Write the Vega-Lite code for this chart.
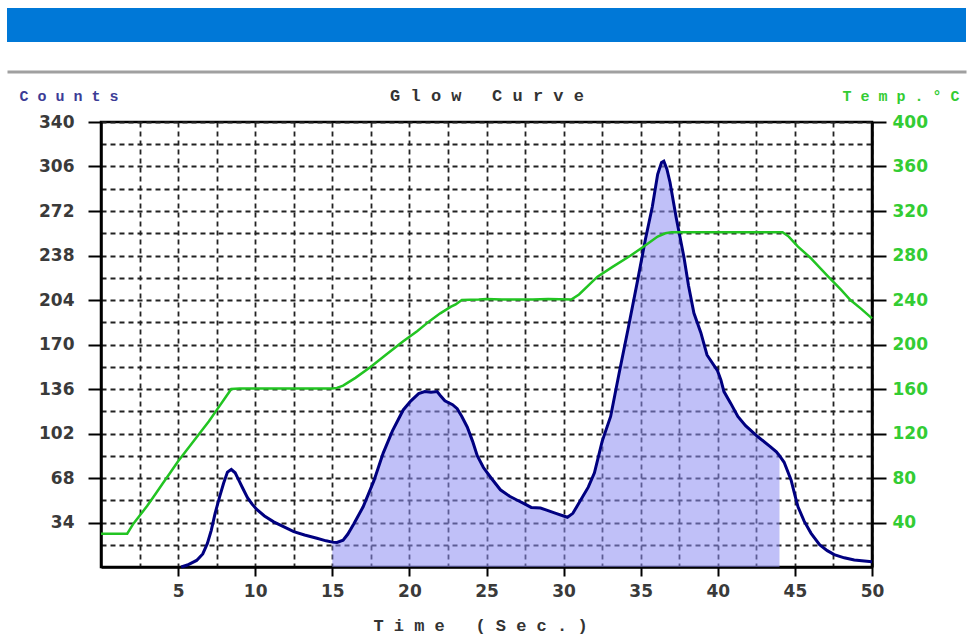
{
  "$schema": "https://vega.github.io/schema/vega-lite/v6.json",
  "padding": {"left": 4, "top": 8, "right": 0, "bottom": 0},
  "background": "white",
  "columns": 1,
  "bounds": "flush",
  "center": true,
  "spacing": 29.5,
  "config": {
    "axis": {"labelFlush": false, "labelOverlap": false},
    "axisRight": {"tickSize": 14, "labelPadding": 6}
  },
  "datasets": {
    "glow": [
      {"t": 5.2, "counts": 0}, {"t": 5.6, "counts": 1.5}, {"t": 6.2, "counts": 5}, {"t": 6.6, "counts": 10},
      {"t": 6.9, "counts": 18}, {"t": 7.15, "counts": 28}, {"t": 7.4, "counts": 41}, {"t": 7.7, "counts": 54},
      {"t": 7.95, "counts": 64}, {"t": 8.2, "counts": 72.5}, {"t": 8.45, "counts": 74.5}, {"t": 8.7, "counts": 72},
      {"t": 8.95, "counts": 66}, {"t": 9.2, "counts": 60}, {"t": 9.5, "counts": 53}, {"t": 9.8, "counts": 48},
      {"t": 10.1, "counts": 44}, {"t": 10.6, "counts": 39}, {"t": 11.2, "counts": 34.5}, {"t": 11.8, "counts": 31},
      {"t": 12.5, "counts": 27}, {"t": 13.2, "counts": 24.5}, {"t": 14.0, "counts": 22}, {"t": 14.6, "counts": 20},
      {"t": 15.0, "counts": 19}, {"t": 15.3, "counts": 18.8}, {"t": 15.7, "counts": 20.5}, {"t": 16.0, "counts": 25},
      {"t": 16.4, "counts": 33}, {"t": 17.0, "counts": 46}, {"t": 17.7, "counts": 66}, {"t": 18.3, "counts": 87},
      {"t": 18.9, "counts": 104}, {"t": 19.6, "counts": 120}, {"t": 20.1, "counts": 127}, {"t": 20.6, "counts": 132.5},
      {"t": 21.0, "counts": 134}, {"t": 21.4, "counts": 133.5}, {"t": 21.8, "counts": 134}, {"t": 22.0, "counts": 131},
      {"t": 22.3, "counts": 127}, {"t": 22.8, "counts": 124}, {"t": 23.1, "counts": 121}, {"t": 23.4, "counts": 115},
      {"t": 23.75, "counts": 107}, {"t": 24.1, "counts": 96}, {"t": 24.4, "counts": 85}, {"t": 24.8, "counts": 76},
      {"t": 25.3, "counts": 68}, {"t": 25.9, "counts": 59}, {"t": 26.5, "counts": 54}, {"t": 27.0, "counts": 51},
      {"t": 27.5, "counts": 48}, {"t": 27.9, "counts": 45.5}, {"t": 28.5, "counts": 45}, {"t": 28.9, "counts": 43.5},
      {"t": 29.5, "counts": 41}, {"t": 30.0, "counts": 39}, {"t": 30.25, "counts": 38}, {"t": 30.6, "counts": 41},
      {"t": 31.1, "counts": 51}, {"t": 31.6, "counts": 61}, {"t": 32.0, "counts": 72}, {"t": 32.5, "counts": 96},
      {"t": 33.05, "counts": 115}, {"t": 33.6, "counts": 148}, {"t": 34.2, "counts": 183}, {"t": 34.8, "counts": 219},
      {"t": 35.3, "counts": 250}, {"t": 35.75, "counts": 275}, {"t": 36.1, "counts": 300}, {"t": 36.35, "counts": 309},
      {"t": 36.5, "counts": 310}, {"t": 36.7, "counts": 304}, {"t": 36.9, "counts": 294}, {"t": 37.3, "counts": 267},
      {"t": 37.8, "counts": 237}, {"t": 38.1, "counts": 215}, {"t": 38.45, "counts": 194}, {"t": 38.9, "counts": 179},
      {"t": 39.3, "counts": 162}, {"t": 39.98, "counts": 150}, {"t": 40.2, "counts": 143}, {"t": 40.4, "counts": 134},
      {"t": 40.84, "counts": 125}, {"t": 41.3, "counts": 115}, {"t": 41.8, "counts": 108}, {"t": 42.6, "counts": 99.5},
      {"t": 43.4, "counts": 92}, {"t": 43.8, "counts": 88}, {"t": 44.0, "counts": 85}, {"t": 44.3, "counts": 80},
      {"t": 44.75, "counts": 66.5}, {"t": 45.0, "counts": 55}, {"t": 45.2, "counts": 46}, {"t": 45.6, "counts": 35},
      {"t": 46.05, "counts": 25.7}, {"t": 46.6, "counts": 17}, {"t": 47.1, "counts": 12.5}, {"t": 47.55, "counts": 9.5},
      {"t": 48.2, "counts": 7}, {"t": 48.85, "counts": 5.3}, {"t": 49.5, "counts": 4.5}, {"t": 50.0, "counts": 4}
    ],
    "temp": [
      {"t": 0, "temp": 30}, {"t": 1.7, "temp": 30}, {"t": 2.1, "temp": 39}, {"t": 2.5, "temp": 46},
      {"t": 3.0, "temp": 55}, {"t": 3.5, "temp": 65}, {"t": 4.0, "temp": 75}, {"t": 4.5, "temp": 85},
      {"t": 5.0, "temp": 95}, {"t": 5.5, "temp": 104}, {"t": 6.0, "temp": 113}, {"t": 6.5, "temp": 122},
      {"t": 7.0, "temp": 131}, {"t": 7.5, "temp": 141}, {"t": 8.0, "temp": 151}, {"t": 8.45, "temp": 160},
      {"t": 9.0, "temp": 160.5}, {"t": 11.0, "temp": 160.5}, {"t": 13.0, "temp": 160.5}, {"t": 15.0, "temp": 160.5},
      {"t": 15.3, "temp": 161}, {"t": 15.7, "temp": 163}, {"t": 16.5, "temp": 170}, {"t": 17.5, "temp": 180},
      {"t": 18.5, "temp": 191}, {"t": 19.6, "temp": 203}, {"t": 20.5, "temp": 212}, {"t": 21.3, "temp": 221},
      {"t": 22.0, "temp": 228}, {"t": 22.7, "temp": 234}, {"t": 23.0, "temp": 236}, {"t": 23.4, "temp": 240},
      {"t": 24.5, "temp": 240.5}, {"t": 25.0, "temp": 241}, {"t": 26.0, "temp": 240.5}, {"t": 27.0, "temp": 240.5},
      {"t": 28.0, "temp": 240.5}, {"t": 29.0, "temp": 241}, {"t": 30.5, "temp": 240.5}, {"t": 31.0, "temp": 245},
      {"t": 32.2, "temp": 261}, {"t": 33.2, "temp": 270}, {"t": 34.35, "temp": 280}, {"t": 35.2, "temp": 288},
      {"t": 36.1, "temp": 297}, {"t": 36.6, "temp": 300}, {"t": 37.0, "temp": 301}, {"t": 40.0, "temp": 301},
      {"t": 42.0, "temp": 301}, {"t": 44.2, "temp": 301}, {"t": 44.6, "temp": 297}, {"t": 45.2, "temp": 288},
      {"t": 46.0, "temp": 278}, {"t": 47.1, "temp": 262}, {"t": 48.0, "temp": 249}, {"t": 48.6, "temp": 240},
      {"t": 49.3, "temp": 232}, {"t": 50.0, "temp": 223.5}
    ]
  },
  "concat": [
    {
      "width": 959,
      "height": 34,
      "view": {"fill": "#0078d7", "stroke": null},
      "data": {"values": [{}]},
      "mark": {"type": "rect", "color": "#0078d7", "opacity": 0},
      "encoding": {}
    },
    {
      "width": 959,
      "height": 21,
      "view": {"stroke": null},
      "data": {"name": "temp"},
      "mark": {"type": "point", "opacity": 0},
      "encoding": {
        "x": {
          "field": "t", "type": "quantitative",
          "scale": {"domain": [0, 50], "nice": false},
          "axis": {
            "orient": "top", "title": null, "labels": false, "ticks": false, "grid": false,
            "domain": true, "domainColor": "#a0a0a0", "domainWidth": 3
          }
        }
      }
    },
    {
      "width": 771,
      "height": 445,
      "view": {"stroke": "black", "strokeWidth": 2.5},
      "layer": [
        {
          "data": {"name": "glow"},
          "transform": [{"filter": {"field": "t", "range": [15, 44]}}],
          "mark": {"type": "area", "color": "#8c8cf2", "opacity": 0.55},
          "encoding": {
            "x": {
              "field": "t", "type": "quantitative",
              "scale": {"domain": [0, 50], "nice": false, "zero": false},
              "axis": {
                "values": [2.5, 5, 7.5, 10, 12.5, 15, 17.5, 20, 22.5, 25, 27.5, 30, 32.5, 35, 37.5, 40, 42.5, 45, 47.5, 50],
                "title": "T i m e \u00a0 ( S e c . )",
                "titleFont": "Liberation Mono", "titleFontSize": 17, "titleFontWeight": "bold", "titleColor": "#333333",
                "titleX": 379, "titleAlign": "center", "titleY": 63, "titleBaseline": "alphabetic",
                "format": "d",
                "labelExpr": "datum.value % 5 === 0 ? datum.label : ''",
                "labelFont": "DejaVu Sans", "labelFontSize": 17, "labelFontWeight": "bold", "labelColor": "#3a3a3a",
                "labelPadding": 7, "labelFlush": false, "labelOverlap": false,
                "tickSize": 9, "tickWidth": 2, "tickColor": "black",
                "tickOpacity": {"condition": {"test": "datum.value % 5 === 0", "value": 1}, "value": 0},
                "domainColor": "black", "domainWidth": 2.5,
                "grid": true, "gridColor": "#222222", "gridDash": [5, 4], "gridWidth": 1.8
              }
            },
            "y": {
              "field": "counts", "type": "quantitative",
              "scale": {"domain": [0, 340], "nice": false},
              "axis": {
                "orient": "left",
                "values": [17, 34, 51, 68, 85, 102, 119, 136, 153, 170, 187, 204, 221, 238, 255, 272, 289, 306, 323, 340],
                "title": null, "labels": false, "ticks": false, "domain": false,
                "grid": true, "gridColor": "#222222", "gridDash": [5, 4], "gridWidth": 1.8
              }
            }
          }
        },
        {
          "data": {"name": "glow"},
          "mark": {"type": "line", "color": "#000080", "strokeWidth": 3},
          "encoding": {
            "x": {"field": "t", "type": "quantitative", "axis": null},
            "y": {
              "field": "counts", "type": "quantitative",
              "scale": {"domain": [0, 340], "nice": false},
              "axis": {
                "orient": "left",
                "values": [34, 68, 102, 136, 170, 204, 238, 272, 306, 340],
                "title": "C o u n t s", "titleAngle": 0, "titleX": -82, "titleY": -22,
                "titleAlign": "left", "titleBaseline": "alphabetic",
                "titleFont": "Liberation Mono", "titleFontSize": 15, "titleFontWeight": "bold", "titleColor": "#3c3c96",
                "labelFont": "DejaVu Sans", "labelFontSize": 17, "labelFontWeight": "bold", "labelColor": "#3a3a3a",
                "labelPadding": 14, "labelFlush": false, "labelOverlap": false,
                "tickSize": 13, "tickWidth": 2, "tickColor": "black",
                "domainColor": "black", "domainWidth": 2.5,
                "grid": false,
                "minExtent": 92
              }
            }
          }
        },
        {
          "data": {"name": "temp"},
          "mark": {"type": "line", "color": "#22c422", "strokeWidth": 2.5},
          "encoding": {
            "x": {
              "field": "t", "type": "quantitative",
              "axis": {
                "orient": "top",
                "title": "G l o w \u00a0 C u r v e",
                "titleX": 385.5, "titleY": -22, "titleAlign": "center", "titleBaseline": "alphabetic",
                "titleFont": "Liberation Mono", "titleFontSize": 17, "titleFontWeight": "bold", "titleColor": "#333333",
                "labels": false, "ticks": false, "domain": false, "grid": false
              }
            },
            "y": {
              "field": "temp", "type": "quantitative",
              "scale": {"domain": [0, 400], "nice": false},
              "axis": {
                "orient": "right",
                "values": [40, 80, 120, 160, 200, 240, 280, 320, 360, 400],
                "title": "T e m p . ° C", "titleAngle": 0, "titleX": 87, "titleY": -22,
                "titleAlign": "right", "titleBaseline": "alphabetic",
                "titleFont": "Liberation Mono", "titleFontSize": 15, "titleFontWeight": "bold", "titleColor": "#33cc33",
                "labelFont": "DejaVu Sans", "labelFontSize": 17, "labelFontWeight": "bold", "labelColor": "#33cc33",
                "labelFlush": false, "labelOverlap": false,
                "ticks": true, "tickWidth": 2, "tickColor": "black",
                "domainColor": "black", "domainWidth": 2.5,
                "grid": false
              }
            }
          }
        }
      ],
      "resolve": {"scale": {"y": "independent"}, "axis": {"x": "independent"}}
    }
  ]
}
